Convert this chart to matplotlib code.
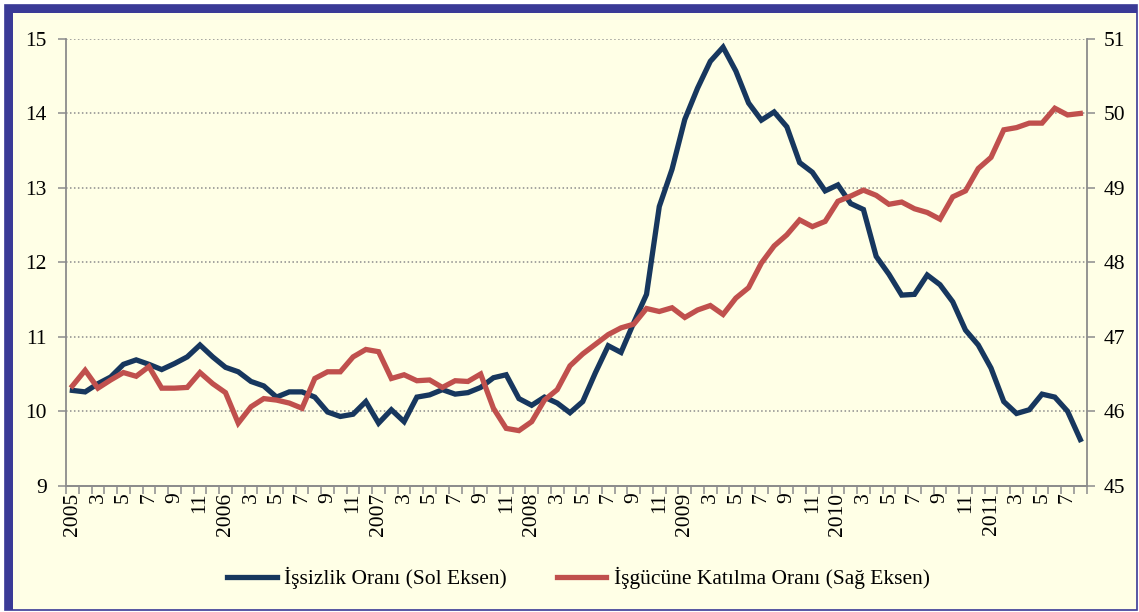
import numpy as np
import matplotlib
matplotlib.use("Agg")
import matplotlib.pyplot as plt
from matplotlib.patches import Rectangle
from matplotlib.lines import Line2D

# ---- data ----
years = [2005, 2006, 2007, 2008, 2009, 2010, 2011]
n_months = 80  # Jan 2005 .. Aug 2011

unemployment = [
    10.28, 10.26, 10.37, 10.46, 10.63, 10.69, 10.63, 10.56, 10.64, 10.73, 10.89, 10.73,
    10.59, 10.53, 10.40, 10.34, 10.19, 10.26, 10.26, 10.19, 9.99, 9.93, 9.96, 10.13,
    9.84, 10.02, 9.86, 10.19, 10.22, 10.29, 10.23, 10.25, 10.32, 10.45, 10.49, 10.17,
    10.08, 10.19, 10.11, 9.98, 10.13, 10.52, 10.88, 10.79, 11.19, 11.57, 12.75, 13.25,
    13.92, 14.34, 14.70, 14.89, 14.57, 14.14, 13.91, 14.02, 13.82, 13.34, 13.21, 12.96,
    13.04, 12.79, 12.71, 12.08, 11.84, 11.56, 11.57, 11.83, 11.70, 11.47, 11.09, 10.89,
    10.58, 10.13, 9.97, 10.02, 10.23, 10.19, 10.00, 9.62,
]
participation = [
    46.34, 46.55, 46.31, 46.42, 46.52, 46.47, 46.60, 46.31, 46.31, 46.32, 46.52, 46.37,
    46.25, 45.84, 46.06, 46.17, 46.15, 46.11, 46.04, 46.44, 46.53, 46.53, 46.73, 46.83,
    46.80, 46.44, 46.49, 46.41, 46.42, 46.32, 46.41, 46.40, 46.50, 46.04, 45.77, 45.74,
    45.86, 46.15, 46.29, 46.61, 46.77, 46.90, 47.03, 47.12, 47.17, 47.38, 47.34, 47.39,
    47.26, 47.36, 47.42, 47.30, 47.52, 47.66, 47.99, 48.22, 48.37, 48.57, 48.48, 48.55,
    48.82, 48.89, 48.97, 48.90, 48.78, 48.81, 48.72, 48.67, 48.58, 48.88, 48.96, 49.26,
    49.41, 49.78, 49.81, 49.87, 49.87, 50.07, 49.98, 50.00,
]
left_ticks = [9, 10, 11, 12, 13, 14, 15]
right_ticks = [45, 46, 47, 48, 49, 50, 51]
label_unemp = "İşsizlik Oranı (Sol Eksen)"
label_part = "İşgücüne Katılma Oranı (Sağ Eksen)"

# ---- style ----
W, H = 1139, 612
BG = "#FFFFE6"
BORDER = "#3A3A96"
BLUE = "#17375E"
RED = "#C0504D"
GRAY = "#8C8C8C"
FONT = "Liberation Serif"
FS = 15.5

fig = plt.figure(figsize=(W / 100, H / 100), dpi=100)
fig.patch.set_facecolor("white")

def px(x0, y0, x1, y1):
    return (x0 / W, 1 - y1 / H), (x1 - x0) / W, (y1 - y0) / H

xy, w, h = px(4.5, 5, 1137, 610)
fig.patches.append(Rectangle(xy, w, h, transform=fig.transFigure, facecolor=BG,
                             edgecolor=BORDER, lw=1.2, zorder=-10))
xy, w, h = px(4.5, 5, 1137, 13)
fig.patches.append(Rectangle(xy, w, h, transform=fig.transFigure, facecolor=BORDER,
                             edgecolor="none", zorder=-9))
xy, w, h = px(4.5, 5, 12.7, 610)
fig.patches.append(Rectangle(xy, w, h, transform=fig.transFigure, facecolor=BORDER,
                             edgecolor="none", zorder=-9))

left, right, top, bottom = 66, 1086.7, 39, 485.7
ax = fig.add_axes([left / W, 1 - bottom / H, (right - left) / W, (bottom - top) / H])
ax.set_facecolor("none")
ax2 = ax.twinx()

x = np.arange(n_months)
ax.plot(x, unemployment, color=BLUE, lw=3.8, solid_joinstyle="miter", zorder=3)
ax2.plot(x, participation, color=RED, lw=3.8, solid_joinstyle="miter", zorder=3)

ax.set_xlim(-0.5, n_months - 0.5)
ax.set_ylim(9, 15)
ax2.set_ylim(45, 51)
ax.set_yticks(left_ticks)
ax2.set_yticks(right_ticks)
ax.set_yticklabels([str(t) for t in left_ticks], fontfamily=FONT, fontsize=FS)
ax2.set_yticklabels([str(t) for t in right_ticks], fontfamily=FONT, fontsize=FS)

ax.grid(axis="y", color=GRAY, linestyle=(0, (1, 1.6)), lw=1.1)
ax.set_axisbelow(True)

# x ticks: marks at category boundaries, labels every two months
ax.set_xticks(np.arange(-0.5, n_months, 1.0))
ax.set_xticklabels([])
lab_pos = list(range(0, n_months, 2))
lab_txt = []
for i in lab_pos:
    m = i % 12 + 1
    lab_txt.append(str(years[i // 12]) if m == 1 else str(m))
ax.set_xticks(lab_pos, minor=True)
ax.set_xticklabels(lab_txt, minor=True, rotation=90, fontfamily=FONT, fontsize=FS,
                   va="top", ha="center")
ax.tick_params(axis="x", which="major", length=6, width=1.1, color=GRAY, direction="out")
ax.tick_params(axis="x", which="minor", length=0, pad=5)
ax.tick_params(axis="y", length=6, width=1.1, color=GRAY, pad=8)
ax2.tick_params(axis="y", length=6, width=1.1, color=GRAY, pad=6)

for a in (ax, ax2):
    a.spines["top"].set_visible(False)
    for s in ("left", "right", "bottom"):
        a.spines[s].set_color(GRAY)
        a.spines[s].set_linewidth(1.3)
ax2.spines["left"].set_visible(False)
ax.spines["right"].set_visible(False)

handles = [Line2D([], [], color=BLUE, lw=3.8), Line2D([], [], color=RED, lw=3.8)]
fig.legend(handles, [label_unemp, label_part], loc="center", ncol=2,
           bbox_to_anchor=(0.5 + 9 / W, 1 - 578 / H), frameon=False,
           prop={"family": FONT, "size": FS}, handlelength=2.3,
           handletextpad=0.35, columnspacing=2.3)

fig.savefig("out.png", dpi=100, facecolor=fig.get_facecolor())
